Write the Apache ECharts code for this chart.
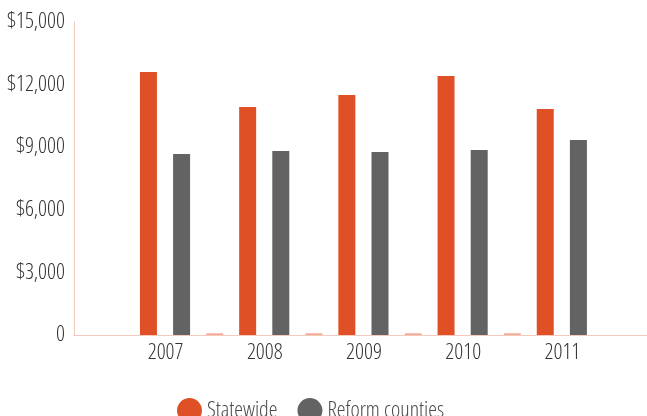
<!DOCTYPE html>
<html>
<head>
<meta charset="utf-8">
<script src="https://cdn.jsdelivr.net/npm/echarts@6/dist/echarts.min.js"></script>
<style>
  html, body { margin: 0; padding: 0; background: #fff; }
  #chart { width: 647px; height: 416px; }
</style>
</head>
<body>
<div id="chart"></div>
<script>
// Annual figures, statewide vs. reform counties
const years = ['2007', '2008', '2009', '2010', '2011'];
const statewide = [12600, 10930, 11500, 12410, 10830];
const reformCounties = [8670, 8820, 8770, 8870, 9350];
// Near-zero third column shown as a faint sliver on the baseline
const other = [80, 80, 80, 80, null];
const yTicks = [0, 3000, 6000, 9000, 12000, 15000];

// Condensed face of Open Sans (stretch goes into the canvas font shorthand)
const TEXT = { fontFamily: '"Open Sans", sans-serif', fontStyle: 'condensed', fontWeight: 300 };
const ORANGE = '#e05026';
const GREY = '#636363';
const AXIS_PINK = '#f4cabd';
const LABEL = '#333333';

const chart = echarts.init(document.getElementById('chart'), null, { renderer: 'canvas' });

chart.setOption({
  animation: false,
  backgroundColor: '#fff',
  grid: [
    { left: 132, right: 19, top: 22, bottom: 81, outerBoundsMode: 'none' },
    // full-width baseline running under the bars
    { left: 74, right: 0, top: 22, bottom: 81, outerBoundsMode: 'none' }
  ],
  legend: {
    data: ['Statewide', 'Reform counties'],
    left: 172,
    top: 393,
    icon: 'circle',
    itemWidth: 25,
    itemHeight: 25,
    itemGap: 20,
    textStyle: Object.assign({ fontSize: 22, color: '#4a4a4a' }, TEXT)
  },
  xAxis: [
    {
      type: 'category',
      gridIndex: 0,
      data: years,
      axisLine: { show: false },
      axisTick: { show: false },
      axisLabel: {
        margin: 7,
        formatter: v => '{a|' + v + '}',
        rich: {
          a: Object.assign({ fontSize: 22, color: LABEL, padding: [0, 32, 0, 0] }, TEXT)
        }
      }
    },
    {
      type: 'value',
      gridIndex: 1,
      min: 0,
      max: 1,
      axisLine: { show: true, lineStyle: { color: AXIS_PINK, width: 1 } },
      axisTick: { show: false },
      axisLabel: { show: false },
      splitLine: { show: false }
    }
  ],
  yAxis: [
    {
      type: 'value',
      gridIndex: 0,
      min: yTicks[0],
      max: yTicks[yTicks.length - 1],
      interval: yTicks[1] - yTicks[0],
      offset: 58,
      axisLine: { show: true, lineStyle: { color: AXIS_PINK, width: 1 } },
      axisTick: { show: false },
      splitLine: { show: false },
      axisLabel: Object.assign({
        margin: 9,
        fontSize: 22,
        color: LABEL,
        formatter: v => v === 0 ? '0' : '$' + v.toLocaleString('en-US')
      }, TEXT)
    },
    {
      type: 'value',
      gridIndex: 1,
      show: false,
      min: 0,
      max: 1
    }
  ],
  series: [
    {
      name: 'Statewide',
      type: 'bar',
      data: statewide,
      barWidth: 17,
      barGap: '95%',
      itemStyle: { color: ORANGE }
    },
    {
      name: 'Reform counties',
      type: 'bar',
      data: reformCounties,
      barWidth: 17,
      barGap: '95%',
      itemStyle: { color: GREY }
    },
    {
      name: 'Other',
      type: 'bar',
      data: other,
      barWidth: 17,
      barGap: '95%',
      z: 3,
      itemStyle: { color: '#f3a892' }
    }
  ]
});
</script>
</body>
</html>
